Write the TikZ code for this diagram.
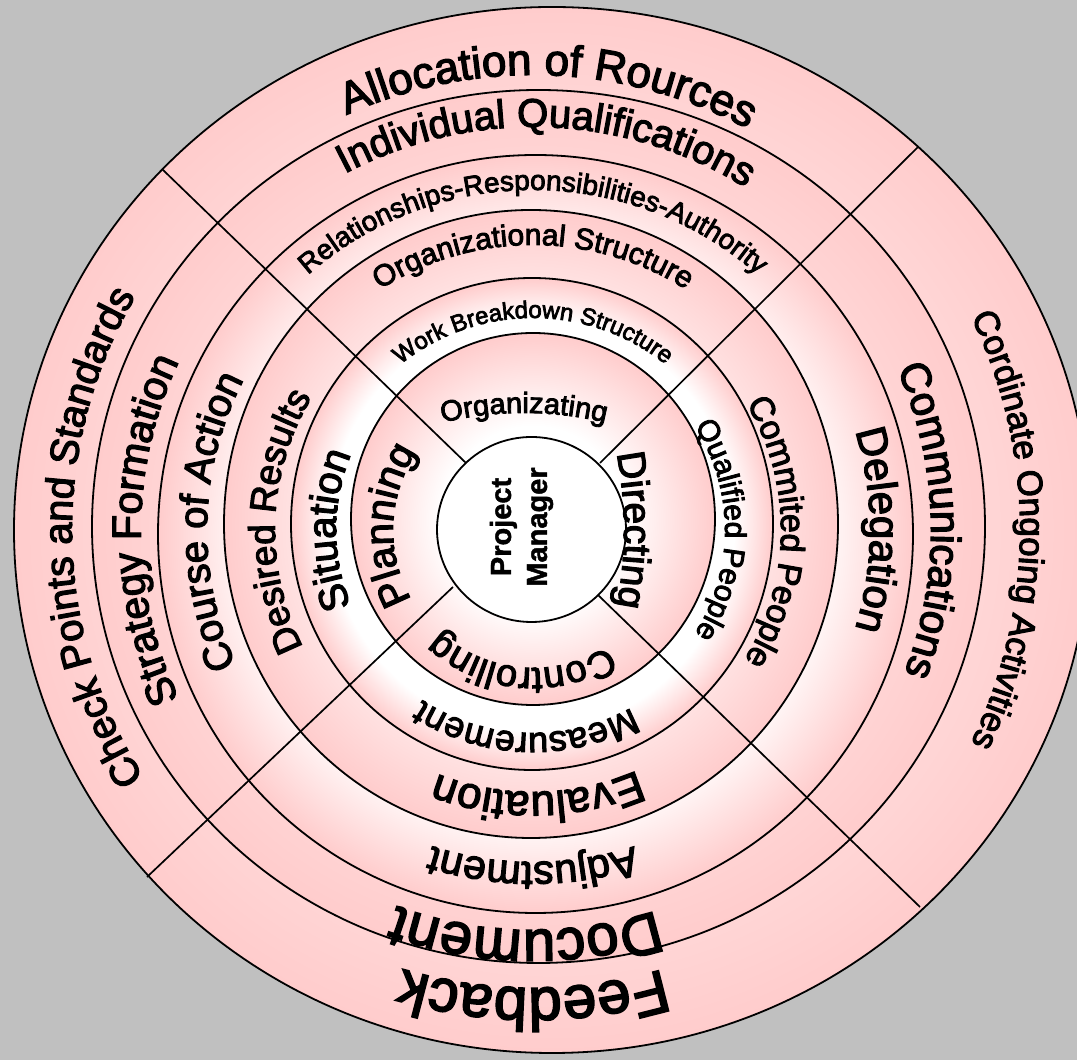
\documentclass[tikz,border=0pt]{standalone}
\usepackage{fontspec}
\setmainfont{Liberation Sans}
\newfontfamily\ringfont{Liberation Sans}[FakeBold=3]
\newfontfamily\centrefont{Liberation Sans}[BoldFeatures={FakeBold=1.5}]
\usetikzlibrary{decorations.text}
\definecolor{backgrey}{RGB}{192,192,192}
\definecolor{ringpink}{RGB}{255,204,204}
% radial fills: white core, pink rim (25bp = rim of the filled shape)
\pgfdeclareradialshading{rimlin}{\pgfpointorigin}{color(0bp)=(white); color(25bp)=(ringpink); color(50bp)=(ringpink)}
\pgfdeclareradialshading{rimhalf}{\pgfpointorigin}{color(0bp)=(white); color(12.5bp)=(white); color(25bp)=(ringpink); color(50bp)=(ringpink)}
\pgfdeclareradialshading{rimmid}{\pgfpointorigin}{color(0bp)=(white); color(12bp)=(white); color(25bp)=(ringpink); color(50bp)=(ringpink)}
\pgfdeclareradialshading{rimlate}{\pgfpointorigin}{color(0bp)=(white); color(18.5bp)=(white); color(25bp)=(ringpink); color(50bp)=(ringpink)}
\pgfdeclareradialshading{rimpale}{\pgfpointorigin}{color(0bp)=(white); color(21bp)=(white); color(25bp)=(ringpink); color(50bp)=(ringpink)}
% text bent clockwise round (#1,#2) at radius #4, centred on angle #3
\newcommand{\arclabel}[6]{%
  \path[decorate,decoration={text along path,text align=center,
      text={|\ringfont\fontsize{#5}{#5}\selectfont|#6}}]
    (#1,#2) ++({#3+75}:#4) arc[start angle={#3+75},end angle={#3-75},radius=#4pt];}
\newcommand{\ringlabel}[4]{\arclabel{533}{530}{#1}{#2}{#3}{#4}}
\begin{document}
\begin{tikzpicture}[x=1pt,y=1pt,
  ringline/.style={draw=black,line width=1.8pt},
  divider/.style={draw=black,line width=1.7pt}]
\useasboundingbox (0,0) rectangle (1077,1060);
\clip (0,0) rectangle (1077,1060);
\fill[backgrey] (0,0) rectangle (1077,1060);
% nested discs, largest first
\path[ringline,shading=rimlin]  (552,530)   ellipse [x radius=538pt,y radius=523pt];
\path[ringline,shading=rimlin]  (538.5,533.5) ellipse [x radius=446.5pt,y radius=436.5pt];
\path[ringline,shading=rimlate] (535.5,526) ellipse [x radius=377.5pt,y radius=379pt];
\path[ringline,shading=rimmid]  (531,536)   ellipse [x radius=307pt,y radius=314pt];
\path[ringline,shading=rimpale] (532,536)   ellipse [x radius=241pt,y radius=246pt];
\path[ringline,shading=rimhalf] (533,541)   ellipse [x radius=182pt,y radius=186pt];
% sector dividers
\coordinate (tlIn) at (466,597);  \coordinate (tlOut) at (162,891);
\coordinate (blIn) at (453,473);  \coordinate (blOut) at (147,183);
\coordinate (trIn) at (600,597);  \coordinate (trOut) at (918,913);
\coordinate (brIn) at (598,465);  \coordinate (brOut) at (920,153);
\draw[divider] (tlIn) -- (tlOut);
\draw[divider] (blIn) -- (blOut);
\draw[divider] (trIn) -- (trOut);
% centre disc
\path[ringline,fill=white] (531.5,530.5) ellipse [x radius=94.5pt,y radius=92.5pt];
\draw[divider] (brIn) -- (brOut);
\node[font=\centrefont\bfseries\fontsize{29}{36}\selectfont,rotate=90,align=center] (pm) at (521.5,533) {Project\\Manager};
% top sector
\ringlabel{88}{455}{44}{Allocation of Rources}
\ringlabel{88}{403}{40}{Individual Qualifications}
\ringlabel{90}{340}{28}{Relationships-Responsibilities-Authority}
\ringlabel{90}{285}{30}{Organizational Structure}
\ringlabel{90}{212}{24}{Work Breakdown Structure}
\arclabel{524}{297}{90}{350}{29}{Organizating}
% left sector
\ringlabel{181}{461}{40}{Check Points and Standards}
\ringlabel{180}{392}{41}{Strategy Formation}
\ringlabel{178.5}{326}{40}{Course of Action}
\ringlabel{178}{258}{37}{Desired Results}
\ringlabel{180}{197}{40}{Situation}
\ringlabel{178}{140}{40}{Planning}
% right sector
\arclabel{224}{530}{0}{400}{39}{Directing}
\ringlabel{0}{192}{30}{Qualified People}
\ringlabel{-0.5}{248}{34}{Commited People}
\ringlabel{0}{337}{42}{Delegation}
\ringlabel{1.4}{398}{42}{Communications}
\ringlabel{0}{487}{35}{Cordinate Ongoing Activities}
% bottom sector
\ringlabel{265}{138}{38}{Controlling}
\ringlabel{268}{203}{36}{Measurement}
\ringlabel{271}{262}{44}{Evaluation}
\ringlabel{270}{332}{41}{Adjustment}
\ringlabel{269}{400}{58}{Document}
\ringlabel{270}{458}{60}{Feedback}
\end{tikzpicture}
\end{document}
